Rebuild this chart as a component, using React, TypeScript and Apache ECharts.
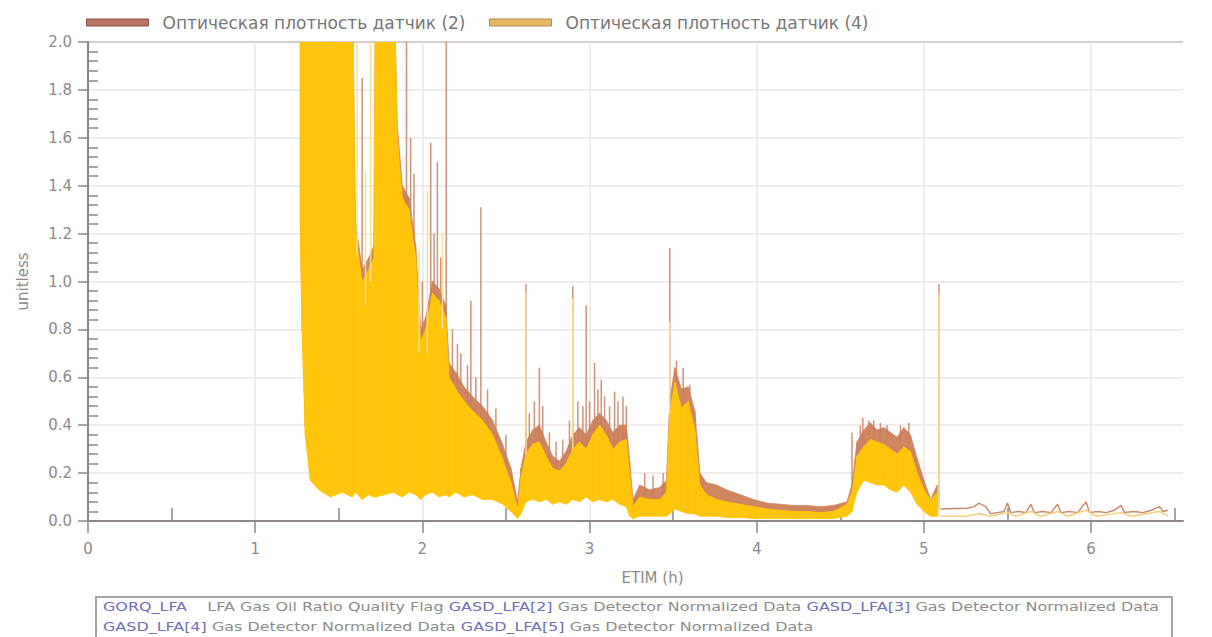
import React, { useEffect, useRef } from "react";
import * as echarts from "echarts";

const NAME2 = "Оптическая плотность датчик (2)";
const NAME4 = "Оптическая плотность датчик (4)";

const X_TICKS = [0, 1, 2, 3, 4, 5, 6];
const X_MINOR = [0.5, 1.5, 2.5, 3.5, 4.5, 5.5, 6.5];

// time knots (h) of the dense signal envelopes
const T = [
  1.27, 1.28, 1.30, 1.33, 1.38, 1.45, 1.52, 1.58, 1.60, 1.64,
  1.68, 1.71, 1.72, 1.83, 1.85, 1.88, 1.92, 1.96, 1.99, 2.02,
  2.06, 2.10, 2.14, 2.16, 2.20, 2.25, 2.30, 2.36, 2.42, 2.48,
  2.53, 2.57, 2.59, 2.62, 2.66, 2.70, 2.74, 2.78, 2.82, 2.86,
  2.90, 2.94, 2.98, 3.02, 3.06, 3.10, 3.14, 3.18, 3.22, 3.24,
  3.26, 3.30, 3.36, 3.42, 3.46, 3.48, 3.51, 3.55, 3.59, 3.63,
  3.66, 3.70, 3.76, 3.82, 3.90, 3.98, 4.06, 4.14, 4.22, 4.30,
  4.38, 4.46, 4.54, 4.57, 4.60, 4.64, 4.68, 4.72, 4.76, 4.80,
  4.84, 4.88, 4.92, 4.96, 5.00, 5.04, 5.08,
];

// sensor (4): upper / lower envelope
const HI4 = [
  2.3, 2.3, 2.3, 2.3, 2.3, 2.3, 2.3, 2.3, 1.2, 1.0,
  1.05, 1.1, 2.3, 2.3, 1.6, 1.35, 1.3, 1.1, 0.75, 0.8,
  0.95, 0.92, 0.85, 0.6, 0.55, 0.5, 0.46, 0.42, 0.36, 0.26,
  0.16, 0.05, 0.18, 0.28, 0.32, 0.33, 0.27, 0.22, 0.21, 0.24,
  0.3, 0.33, 0.3, 0.36, 0.4, 0.36, 0.3, 0.33, 0.34, 0.2,
  0.06, 0.1, 0.09, 0.09, 0.12, 0.45, 0.58, 0.47, 0.5, 0.38,
  0.15, 0.11, 0.09, 0.08, 0.07, 0.06, 0.05, 0.045, 0.04, 0.04,
  0.035, 0.04, 0.07, 0.12, 0.27, 0.31, 0.34, 0.33, 0.32, 0.3,
  0.28, 0.31, 0.29, 0.2, 0.13, 0.09, 0.12,
];
const LO4 = [
  1.2, 0.8, 0.35, 0.17, 0.13, 0.1, 0.12, 0.1, 0.12, 0.09,
  0.11, 0.1, 0.1, 0.12, 0.11, 0.1, 0.12, 0.11, 0.09, 0.11,
  0.12, 0.1, 0.11, 0.1, 0.12, 0.1, 0.11, 0.09, 0.09, 0.07,
  0.04, 0.01, 0.03, 0.08, 0.09, 0.08, 0.09, 0.07, 0.08, 0.07,
  0.09, 0.08, 0.1, 0.08, 0.09, 0.08, 0.09, 0.07, 0.06, 0.02,
  0.01, 0.02, 0.02, 0.02, 0.02, 0.03, 0.05, 0.04, 0.03, 0.03,
  0.02, 0.02, 0.02, 0.015, 0.015, 0.01, 0.01, 0.01, 0.01, 0.01,
  0.01, 0.01, 0.02, 0.04, 0.12, 0.17, 0.16, 0.15, 0.15, 0.13,
  0.12, 0.15, 0.12, 0.07, 0.04, 0.02, 0.02,
];

// sensor (2): upper / lower envelope
const HI2 = [
  2.3, 2.3, 2.3, 2.3, 2.3, 2.3, 2.3, 2.3, 1.25, 1.05,
  1.1, 1.15, 2.3, 2.3, 1.65, 1.4, 1.35, 1.15, 0.8, 0.85,
  1.0, 0.97, 0.9, 0.66, 0.62, 0.56, 0.52, 0.48, 0.42, 0.32,
  0.22, 0.08, 0.22, 0.33, 0.38, 0.4, 0.33, 0.27, 0.25, 0.29,
  0.36, 0.39, 0.36, 0.42, 0.45, 0.42, 0.37, 0.4, 0.4, 0.25,
  0.09, 0.15, 0.13, 0.14, 0.17, 0.5, 0.64, 0.55, 0.56, 0.46,
  0.2, 0.16, 0.15, 0.13, 0.11, 0.09, 0.075, 0.07, 0.065, 0.065,
  0.06, 0.065, 0.08, 0.15, 0.33, 0.38, 0.41, 0.38, 0.39, 0.37,
  0.35, 0.39, 0.36, 0.26, 0.17, 0.09, 0.15,
];
const LO2 = [
  1.25, 0.85, 0.4, 0.2, 0.15, 0.12, 0.13, 0.12, 0.13, 0.1,
  0.12, 0.11, 0.11, 0.13, 0.12, 0.11, 0.13, 0.12, 0.1, 0.12,
  0.13, 0.11, 0.12, 0.11, 0.13, 0.11, 0.12, 0.1, 0.1, 0.08,
  0.05, 0.02, 0.04, 0.09, 0.1, 0.09, 0.1, 0.08, 0.09, 0.08,
  0.1, 0.09, 0.11, 0.09, 0.1, 0.09, 0.1, 0.08, 0.07, 0.03,
  0.02, 0.03, 0.03, 0.03, 0.03, 0.04, 0.06, 0.05, 0.04, 0.04,
  0.03, 0.03, 0.03, 0.03, 0.03, 0.03, 0.03, 0.03, 0.03, 0.03,
  0.03, 0.03, 0.04, 0.06, 0.14, 0.19, 0.18, 0.17, 0.17, 0.15,
  0.14, 0.17, 0.14, 0.09, 0.06, 0.04, 0.04,
];

// isolated peaks: [t, from, to]
const SPIKES2 = [
  [1.64, 1.0, 1.85], [1.905, 1.3, 2.3], [1.93, 1.2, 1.6], [1.95, 1.0, 1.45],
  [2.00, 0.7, 1.0], [2.05, 0.8, 1.58], [2.07, 0.9, 1.2], [2.09, 0.9, 1.5],
  [2.11, 0.85, 1.1], [2.143, 0.6, 2.3], [2.18, 0.55, 0.8], [2.21, 0.5, 0.74],
  [2.23, 0.5, 0.7], [2.27, 0.45, 0.65], [2.29, 0.45, 0.92], [2.32, 0.45, 0.6],
  [2.35, 0.42, 1.31], [2.39, 0.38, 0.55], [2.44, 0.33, 0.47], [2.50, 0.22, 0.36],
  [2.62, 0.3, 0.99], [2.64, 0.3, 0.45], [2.67, 0.3, 0.5], [2.70, 0.33, 0.64],
  [2.72, 0.3, 0.48], [2.76, 0.25, 0.37], [2.80, 0.2, 0.33], [2.84, 0.2, 0.34],
  [2.88, 0.25, 0.42], [2.90, 0.3, 0.98], [2.93, 0.3, 0.5], [2.96, 0.3, 0.48],
  [2.98, 0.3, 0.9], [3.00, 0.3, 0.5], [3.03, 0.36, 0.66], [3.05, 0.35, 0.55],
  [3.07, 0.4, 0.59], [3.09, 0.35, 0.52], [3.12, 0.3, 0.48], [3.15, 0.3, 0.54],
  [3.17, 0.3, 0.5], [3.20, 0.33, 0.52], [3.22, 0.3, 0.48],
  [3.33, 0.1, 0.2], [3.38, 0.1, 0.19], [3.44, 0.1, 0.2],
  [3.48, 0.45, 1.14], [3.52, 0.58, 0.67], [3.56, 0.5, 0.64], [3.60, 0.5, 0.57],
  [4.57, 0.12, 0.37], [4.62, 0.3, 0.4], [4.635, 0.3, 0.43], [4.67, 0.35, 0.42],
  [4.70, 0.3, 0.42], [4.74, 0.33, 0.41], [4.78, 0.35, 0.4], [4.86, 0.32, 0.4],
  [4.91, 0.3, 0.41], [5.09, 0.05, 0.99],
];
const SPIKES4 = [
  [1.61, 1.1, 2.3], [1.66, 0.9, 1.46], [1.69, 1.0, 2.3], [1.98, 0.7, 1.13],
  [2.03, 0.7, 1.38], [2.12, 0.8, 1.2], [2.62, 0.28, 0.95], [2.90, 0.3, 0.93],
  [3.48, 0.45, 0.83], [5.09, 0.02, 0.95],
];

// quiet tail after the last peak
const TAIL2 = [
  [5.10, 0.05], [5.18, 0.052], [5.26, 0.053], [5.30, 0.06], [5.33, 0.075],
  [5.37, 0.06], [5.40, 0.03], [5.44, 0.035], [5.48, 0.04], [5.50, 0.075],
  [5.52, 0.035], [5.57, 0.04], [5.61, 0.035], [5.64, 0.07], [5.66, 0.035],
  [5.71, 0.04], [5.76, 0.035], [5.80, 0.07], [5.82, 0.035], [5.87, 0.04],
  [5.92, 0.035], [5.97, 0.08], [5.99, 0.035], [6.04, 0.04], [6.09, 0.035],
  [6.14, 0.045], [6.18, 0.065], [6.20, 0.035], [6.26, 0.04], [6.31, 0.035],
  [6.36, 0.045], [6.41, 0.06], [6.43, 0.04], [6.46, 0.045],
];
const TAIL4 = [
  [5.10, 0.02], [5.25, 0.02], [5.33, 0.03], [5.40, 0.02], [5.50, 0.035],
  [5.55, 0.02], [5.64, 0.04], [5.70, 0.02], [5.80, 0.04], [5.86, 0.02],
  [5.97, 0.045], [6.03, 0.02], [6.18, 0.035], [6.24, 0.02], [6.41, 0.04],
  [6.46, 0.02],
];

const FOOT1 = "{m|GORQ_LFA}    {d|LFA Gas Oil Ratio Quality Flag} {m|GASD_LFA[2]} {d|Gas Detector Normalized Data} {m|GASD_LFA[3]} {d|Gas Detector Normalized Data}";
const FOOT2 = "{m|GASD_LFA[4]} {d|Gas Detector Normalized Data} {m|GASD_LFA[5]} {d|Gas Detector Normalized Data}";

const FONT = "DejaVu Sans";
const AX = "#8e8686";
const GRID = "#ebe6e4";
const LABEL = "#8a8a8a";
const YELLOW = "#ffc50a";
const BROWN = "#cf8660";

const bandRows = (lo: number[], hi: number[]) =>
  T.slice(0, -1).map((t, i) => [t, lo[i], hi[i], T[i + 1], lo[i + 1], hi[i + 1]]);

const bandRender = (color: string) => (_p: any, api: any) => {
  const a = api.coord([api.value(0), api.value(1)]);
  const b = api.coord([api.value(0), api.value(2)]);
  const c = api.coord([api.value(3), api.value(5)]);
  const d = api.coord([api.value(3), api.value(4)]);
  return {
    type: "polygon",
    shape: { points: [a, b, c, d] },
    style: { fill: color, stroke: color, lineWidth: 0.8 },
  };
};

const spikeRender = (color: string, w: number) => (_p: any, api: any) => {
  const a = api.coord([api.value(0), api.value(1)]);
  const b = api.coord([api.value(0), api.value(2)]);
  return {
    type: "line",
    shape: { x1: a[0], y1: a[1], x2: b[0], y2: b[1] },
    style: { stroke: color, lineWidth: w },
  };
};

const footText = (text: string, y: number) => ({
  type: "text",
  x: 103,
  y,
  scaleX: 1.33,
  style: {
    text,
    fontSize: 12,
    fontFamily: FONT,
    verticalAlign: "middle",
    rich: {
      m: { fill: "#6d6db8", fontSize: 12, fontFamily: FONT },
      d: { fill: "#8c8c8c", fontSize: 12, fontFamily: FONT },
    },
  },
});

export default function App() {
  const ref = useRef<HTMLDivElement>(null);
  useEffect(() => {
    if (!ref.current) return;
    const chart = echarts.init(ref.current, undefined, { renderer: "svg" });
    const legendBase = {
      top: 14,
      padding: 0,
      itemWidth: 62,
      itemHeight: 7,
      selectedMode: false,
      textStyle: { color: "#777", fontSize: 17, fontFamily: FONT, padding: [0, 0, 0, 9] },
    };
    chart.setOption({
      animation: false,
      backgroundColor: "#fff",
      grid: { left: 88, right: 29, top: 42, bottom: 116, containLabel: false },
      legend: [
        {
          ...legendBase,
          left: 86,
          data: [{ name: NAME2, icon: "rect", itemStyle: { color: "#b87564", borderColor: "#8e5443", borderWidth: 1 } }],
        },
        {
          ...legendBase,
          left: 489,
          data: [{ name: NAME4, icon: "rect", itemStyle: { color: "#e6b865", borderColor: "#b58a45", borderWidth: 1 } }],
        },
      ],
      xAxis: [
        {
          type: "value",
          min: 0,
          max: 6.55,
          interval: 1,
          position: "bottom",
          name: "ETIM (h)",
          nameLocation: "middle",
          nameGap: 49,
          nameTextStyle: { color: LABEL, fontSize: 15, fontFamily: FONT, padding: [0, 0, 0, 34] },
          axisLine: { onZero: false, lineStyle: { color: AX, width: 2 } },
          axisTick: { customValues: X_TICKS, length: 12, lineStyle: { color: AX, width: 1.5 } },
          axisLabel: {
            customValues: X_TICKS,
            margin: 20,
            color: LABEL,
            fontSize: 15,
            fontFamily: FONT,
          },
          splitLine: { show: true, lineStyle: { color: GRID, width: 1.5 } },
        },
        {
          type: "value",
          min: 0,
          max: 6.55,
          position: "top",
          offset: -479,
          axisLine: { show: false, onZero: false },
          axisLabel: { show: false },
          splitLine: { show: false },
          axisTick: { customValues: X_MINOR, length: 13, lineStyle: { color: AX, width: 1.5 } },
        },
      ],
      yAxis: [
        {
          type: "value",
          min: 0,
          max: 2,
          interval: 0.2,
          name: "unitless",
          nameLocation: "middle",
          nameGap: 58,
          nameTextStyle: { color: LABEL, fontSize: 15, fontFamily: FONT },
          axisLine: { show: true, onZero: false, lineStyle: { color: AX, width: 2 } },
          axisTick: { show: true, length: 10, lineStyle: { color: AX, width: 1.5 } },
          axisLabel: {
            margin: 16,
            color: LABEL,
            fontSize: 15,
            fontFamily: FONT,
            formatter: (v: number) => v.toFixed(1),
          },
          splitLine: { show: true, lineStyle: { color: GRID, width: 1.5 } },
        },
        {
          type: "value",
          min: 0,
          max: 2,
          interval: 0.2,
          position: "right",
          offset: -1095,
          axisLine: { show: false, onZero: false },
          axisTick: { show: false },
          axisLabel: { show: false },
          splitLine: { show: false },
          minorTick: { show: true, splitNumber: 5, length: 10, lineStyle: { color: AX, width: 1.5 } },
        },
      ],
      graphic: [
        { type: "line", shape: { x1: 88, y1: 42, x2: 1183, y2: 42 }, style: { stroke: AX, lineWidth: 2 } },
        {
          type: "rect",
          shape: { x: 96, y: 597, width: 1076, height: 52 },
          style: { fill: "#fff", stroke: "#a9a5a5", lineWidth: 2 },
        },
        footText(FOOT1, 607),
        footText(FOOT2, 627),
      ],
      series: [
        {
          type: "custom",
          name: NAME2,
          itemStyle: { color: "#b87564" },
          clip: true,
          renderItem: bandRender(BROWN),
          encode: { x: [0, 3], y: [1, 2, 4, 5] },
          data: bandRows(LO2, HI2),
          silent: true,
        },
        {
          type: "custom",
          name: "peaks2",
          clip: true,
          renderItem: spikeRender("rgba(196,128,100,0.85)", 1.5),
          encode: { x: 0, y: [1, 2] },
          data: SPIKES2,
          silent: true,
        },
        {
          type: "line",
          name: "tail2",
          data: TAIL2,
          showSymbol: false,
          lineStyle: { color: "#c98a6a", width: 1.5 },
          silent: true,
        },
        {
          type: "custom",
          name: NAME4,
          itemStyle: { color: "#e6b865" },
          clip: true,
          renderItem: bandRender(YELLOW),
          encode: { x: [0, 3], y: [1, 2, 4, 5] },
          data: bandRows(LO4, HI4),
          silent: true,
        },
        {
          type: "custom",
          name: "peaks4",
          clip: true,
          renderItem: spikeRender("rgba(250,222,150,0.95)", 1.5),
          encode: { x: 0, y: [1, 2] },
          data: SPIKES4,
          silent: true,
        },
        {
          type: "line",
          name: "tail4",
          data: TAIL4,
          showSymbol: false,
          lineStyle: { color: "#f3cf7a", width: 1.5 },
          silent: true,
        },
      ],
    });
    return () => chart.dispose();
  }, []);
  return (
    <div
      ref={ref}
      style={{ position: "fixed", left: 0, top: 0, width: 1212, height: 637, background: "#fff" }}
    />
  );
}
